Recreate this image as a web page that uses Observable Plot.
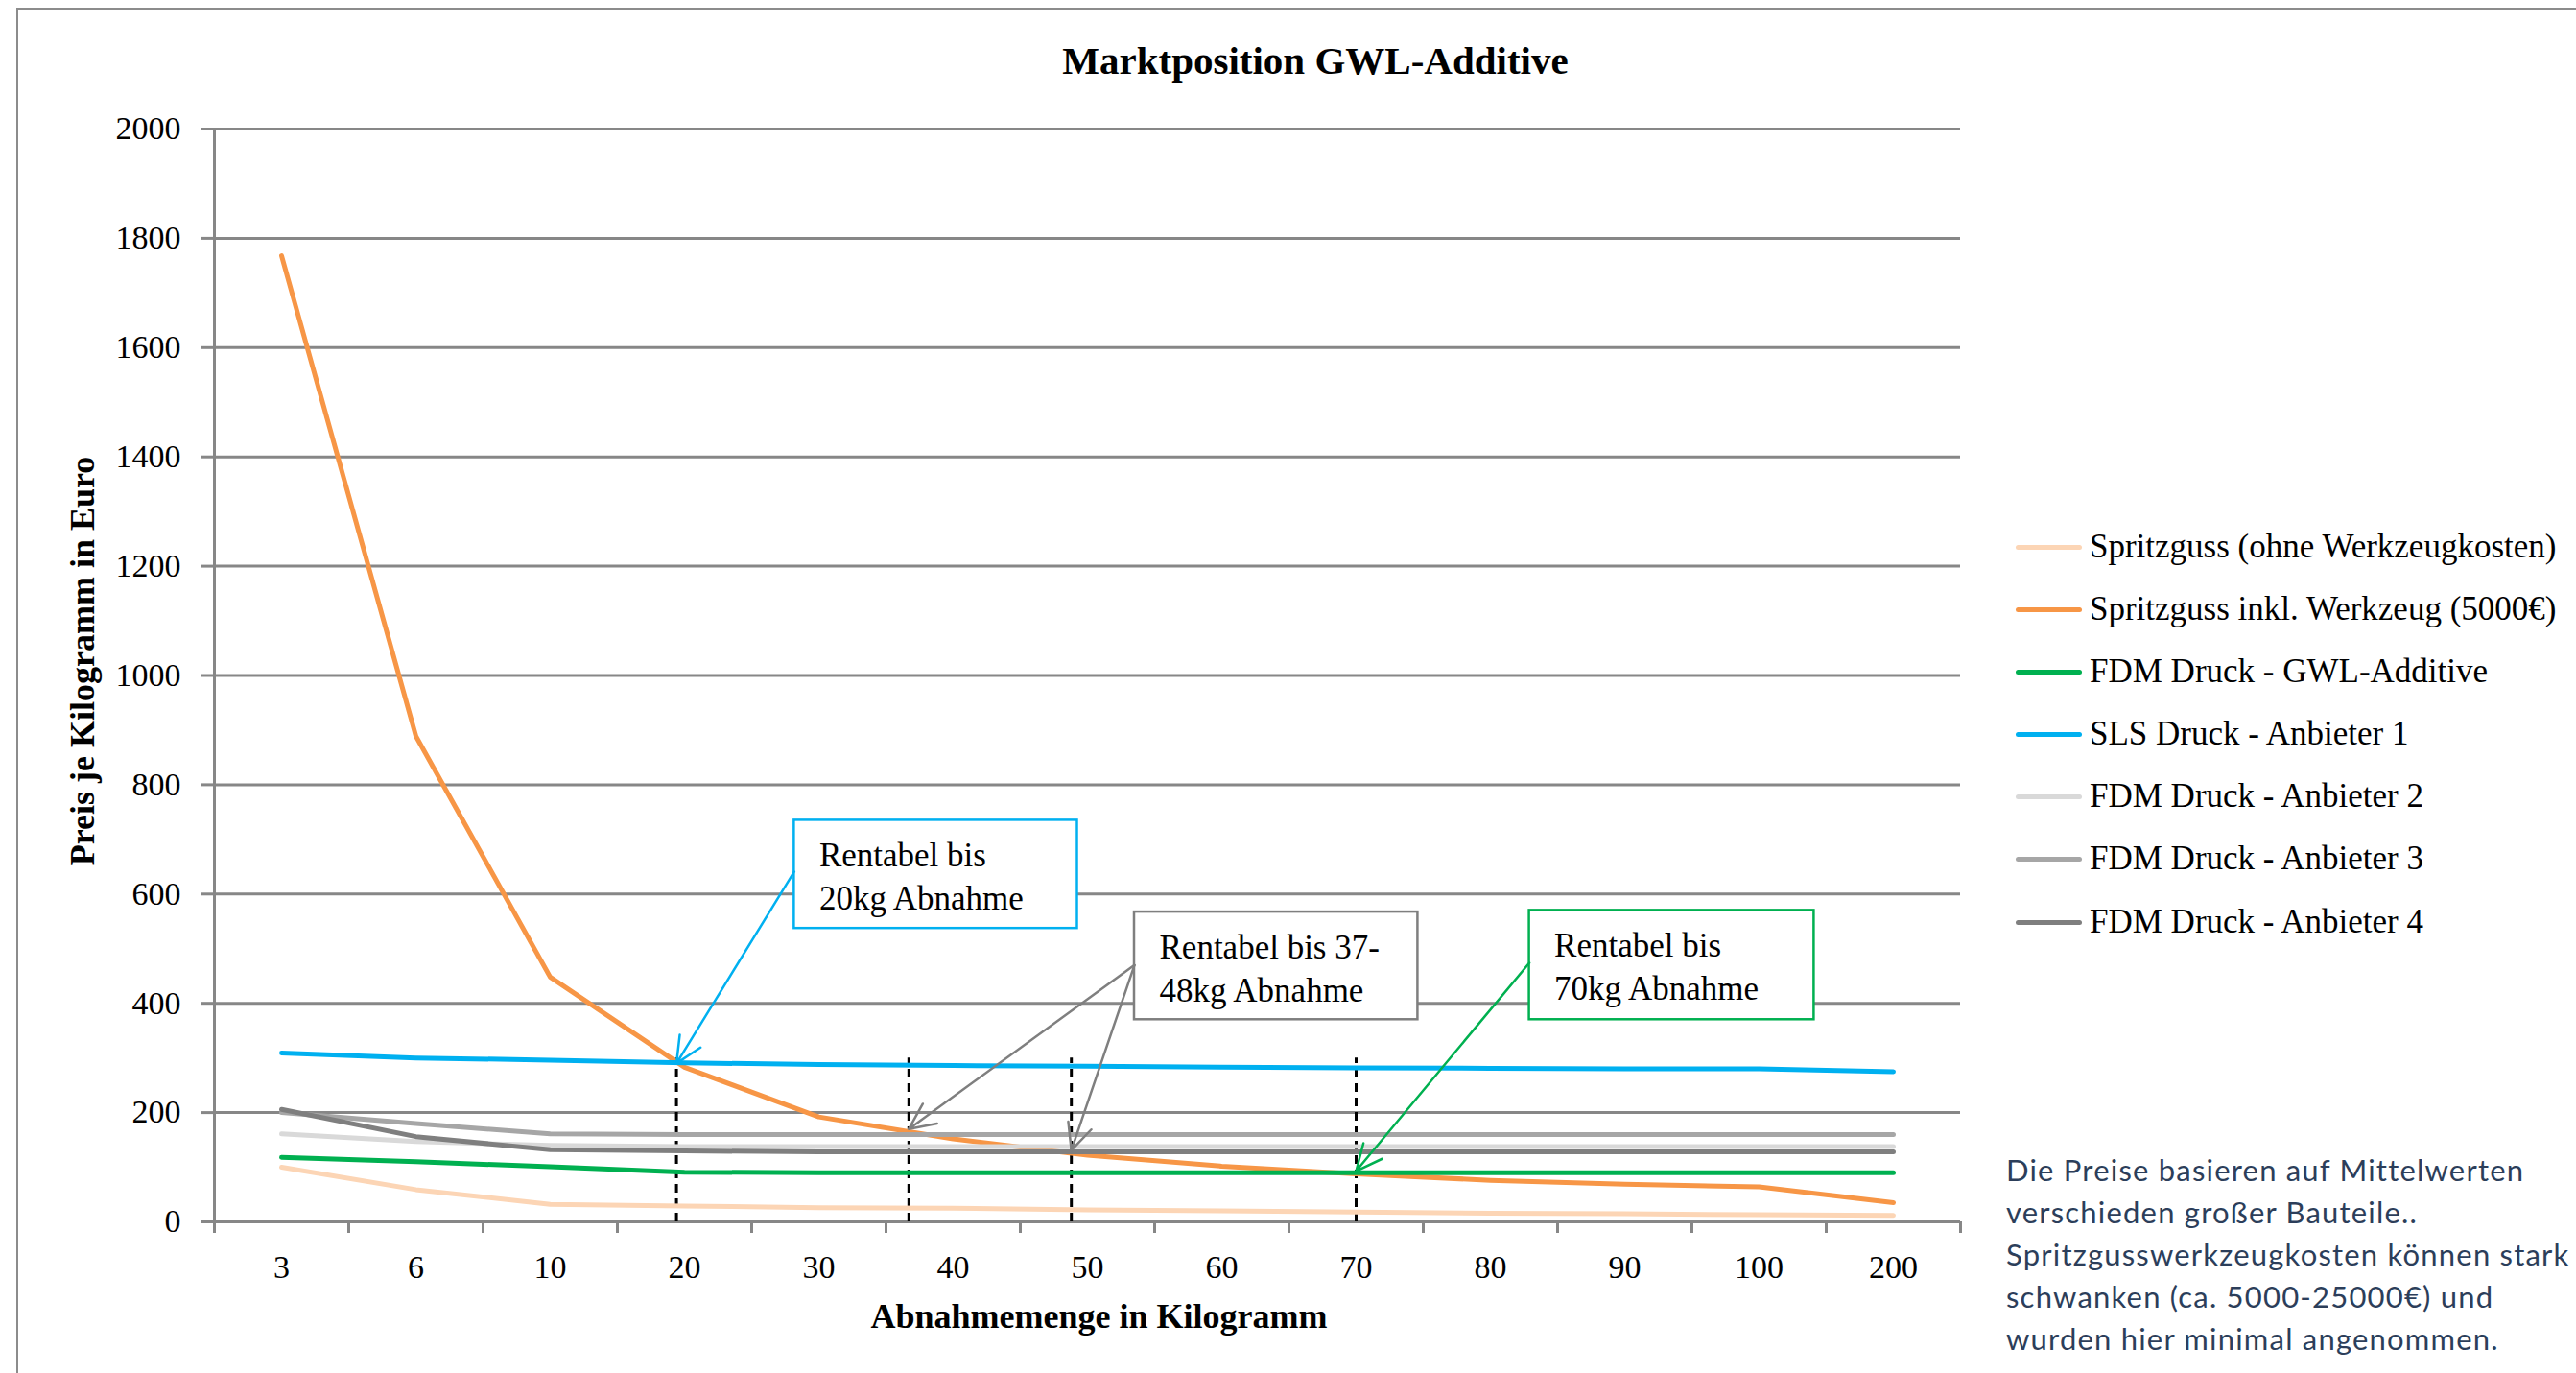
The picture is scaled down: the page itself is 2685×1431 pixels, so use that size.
<!DOCTYPE html>
<html>
<head>
<meta charset="utf-8">
<script src="https://cdn.jsdelivr.net/npm/d3@7"></script>
<script src="https://cdn.jsdelivr.net/npm/@observablehq/plot@0.6"></script>
<style>
  html, body { margin: 0; padding: 0; background: #fff; overflow: hidden; }
  #wrap { position: relative; width: 2685px; height: 1431px; overflow: hidden; }
  #frame { position: absolute; left: 17px; top: 8px; width: 3000px; height: 3000px;
           border-left: 2px solid #8c8c8c; border-top: 2px solid #8c8c8c; }
  #chart { position: absolute; left: 0; top: 0; }
  #title { position: absolute; left: 1371px; top: 63px; transform: translate(-50%, -50%);
           font-family: "Liberation Serif", "Times New Roman", serif; font-weight: bold;
           font-size: 41px; white-space: nowrap; color: #000; }
  .leg { position: absolute; left: 2101px; height: 40px; display: flex; align-items: center;
         font-family: "Liberation Serif", "Times New Roman", serif; font-size: 35px; color: #000;
         white-space: nowrap; }
  .sw { width: 69px; height: 5px; border-radius: 3px; margin-right: 8px; }
  #note { position: absolute; left: 2091px; top: 1197px; font-family: Lato, "Open Sans", sans-serif;
          font-size: 31px; line-height: 44px; letter-spacing: 1.2px; color: #2c3e5a; white-space: pre; }
</style>
</head>
<body>
<div id="wrap">
  <div id="frame"></div>
  <div id="chart"></div>
  <div id="title"></div>
  <div id="legend"></div>
  <div id="note"></div>
</div>
<script>
// ---------- data ----------
const categories = ["3", "6", "10", "20", "30", "40", "50", "60", "70", "80", "90", "100", "200"];
const kgValues = [3, 6, 10, 20, 30, 40, 50, 60, 70, 80, 90, 100, 200];

const seriesNames = [
  "Spritzguss (ohne Werkzeugkosten)",
  "Spritzguss inkl. Werkzeug (5000€)",
  "FDM Druck - GWL-Additive",
  "SLS Druck - Anbieter 1",
  "FDM Druck - Anbieter 2",
  "FDM Druck - Anbieter 3",
  "FDM Druck - Anbieter 4"
];
const seriesColors = ["#fcd5b5", "#f79646", "#00b050", "#00b0f0", "#d9d9d9", "#a6a6a6", "#7f7f7f"];

const spritzgussOhne = [100, 59, 32, 29, 26, 25, 22, 20, 18, 16, 15, 13, 12];
const spritzgussInkl = [1768, 889, 448, 283, 192, 152, 122, 102, 88, 76, 69, 64, 35];
const fdmGwl        = [118, 110, 101, 91, 90, 90, 90, 90, 90, 90, 90, 90, 90];
const slsAnbieter1  = [309, 300, 296, 291, 288, 286, 285, 283, 282, 281, 280, 280, 275];
const fdmAnbieter2  = [161, 147, 140, 138, 138, 138, 138, 138, 138, 138, 138, 138, 138];
const fdmAnbieter3  = [200, 180, 161, 160, 160, 160, 160, 160, 160, 160, 160, 160, 160];
const fdmAnbieter4  = [206, 156, 132, 130, 128, 128, 128, 128, 128, 128, 128, 128, 128];
const seriesValues = [spritzgussOhne, spritzgussInkl, fdmGwl, slsAnbieter1, fdmAnbieter2, fdmAnbieter3, fdmAnbieter4];

const yTicks = [0, 200, 400, 600, 800, 1000, 1200, 1400, 1600, 1800, 2000];

// break-even quantities (kg) and the price where the arrows meet the curves
const breakEvenKg    = [19.4, 36.7, 48.8, 70];
const breakEvenPrice = [290, 170, 131, 93];
const breakEvenTop   = 300;

const annotationTexts  = ["Rentabel bis\n20kg Abnahme", "Rentabel bis 37-\n48kg Abnahme", "Rentabel bis\n70kg Abnahme"];
const annotationColors = ["#00b0f0", "#7f7f7f", "#00b050"];
const annotationTargets = [[0], [1, 2], [3]]; // which break-even points each box points to

const title = "Marktposition GWL-Additive";
const xTitle = "Abnahmemenge in Kilogramm";
const yTitle = "Preis je Kilogramm in Euro";
const noteText = "Die Preise basieren auf Mittelwerten\nverschieden großer Bauteile..\nSpritzgusswerkzeugkosten können stark\nschwanken (ca. 5000-25000€) und\nwurden hier minimal angenommen.";

// ---------- layout (category-index / price units) ----------
const boxLayout = [
  {x1: 3.817, x2: 5.925, yTop: 735, yBottom: 537, yArrow: 641},
  {x1: 6.35,  x2: 8.46,  yTop: 567, yBottom: 370, yArrow: 470},
  {x1: 9.29,  x2: 11.41, yTop: 570, yBottom: 370, yArrow: 474}
];

// ---------- build ----------
const kgToIndex = d3.scaleLinear().domain(kgValues).range(d3.range(kgValues.length));
const boundaries = d3.range(-0.5, categories.length, 1);
const centers = d3.range(categories.length);

const lineMarks = seriesValues.map((vals, s) =>
  Plot.line(vals.map((v, i) => ({i, v})), {
    x: "i", y: "v", stroke: seriesColors[s], strokeWidth: 5,
    strokeLinejoin: "round", strokeLinecap: "round"
  })
);

const boxes = boxLayout.map((b, k) => ({...b, text: annotationTexts[k], color: annotationColors[k]}));
const arrows = boxes.flatMap((b, k) => annotationTargets[k].map(t => ({
  x1: b.x1, y1: b.yArrow, x2: kgToIndex(breakEvenKg[t]), y2: breakEvenPrice[t], color: b.color
})));
const breakRules = breakEvenKg.map(kg => ({x: kgToIndex(kg)}));

const chart = Plot.plot({
  width: 2685, height: 1431,
  marginLeft: 223, marginRight: 642, marginTop: 134, marginBottom: 158,
  x: {domain: [-0.5, categories.length - 0.5], axis: null},
  y: {domain: [0, 2000], axis: null},
  style: {fontFamily: "'Liberation Serif', 'Times New Roman', serif", fontSize: "34px", color: "#000", background: "transparent"},
  marks: [
    Plot.gridY(yTicks, {stroke: "#878787", strokeOpacity: 1, strokeWidth: 3}),
    Plot.axisY({ticks: yTicks, tickSize: 13, tickPadding: 22, stroke: "#878787", strokeWidth: 3,
                tickFormat: d => String(d), label: null, fontSize: 34}),
    Plot.ruleX([-0.5], {y1: 0, y2: 2000, stroke: "#878787", strokeWidth: 3}),
    Plot.axisX({ticks: boundaries, tickSize: 12, tickFormat: () => "", stroke: "#878787", strokeWidth: 3, label: null}),
    Plot.axisX({ticks: centers, tickSize: 0, tickPadding: 34, tickFormat: i => categories[i], label: null, fontSize: 34}),
    Plot.ruleX(breakRules, {x: "x", y1: 0, y2: breakEvenTop, stroke: "#000", strokeWidth: 3, strokeDasharray: "9,6"}),
    ...lineMarks,
    Plot.rect(boxes, {x1: "x1", x2: "x2", y1: "yBottom", y2: "yTop", fill: "#fff", stroke: "color", strokeWidth: 2.5}),
    Plot.arrow(arrows, {x1: "x1", y1: "y1", x2: "x2", y2: "y2", stroke: "color", strokeWidth: 2.5, headLength: 18, headAngle: 50}),
    Plot.text(boxes, {x: "x1", y: "yTop", text: "text", textAnchor: "start", lineAnchor: "top",
                      dx: 26, dy: 16, lineHeight: 1.29, fontSize: 35, fill: "#000"}),
    Plot.text([xTitle], {frameAnchor: "bottom", dx: 12, dy: 110, fontWeight: "bold", fontSize: 36, fill: "#000"}),
    Plot.text([yTitle], {frameAnchor: "left", textAnchor: "middle", dx: -137, dy: -15, rotate: -90, fontWeight: "bold", fontSize: 36, fill: "#000"})
  ]
});
document.getElementById("chart").appendChild(chart);

document.getElementById("title").textContent = title;
document.getElementById("note").textContent = noteText;

const legendRowsY = [570, 635, 700, 765, 830, 895, 961];
const legend = document.getElementById("legend");
seriesNames.forEach((name, s) => {
  const row = document.createElement("div");
  row.className = "leg";
  row.style.top = (legendRowsY[s] - 20) + "px";
  const sw = document.createElement("div");
  sw.className = "sw";
  sw.style.background = seriesColors[s];
  const tx = document.createElement("span");
  tx.textContent = name;
  row.appendChild(sw);
  row.appendChild(tx);
  legend.appendChild(row);
});
</script>
</body>
</html>
